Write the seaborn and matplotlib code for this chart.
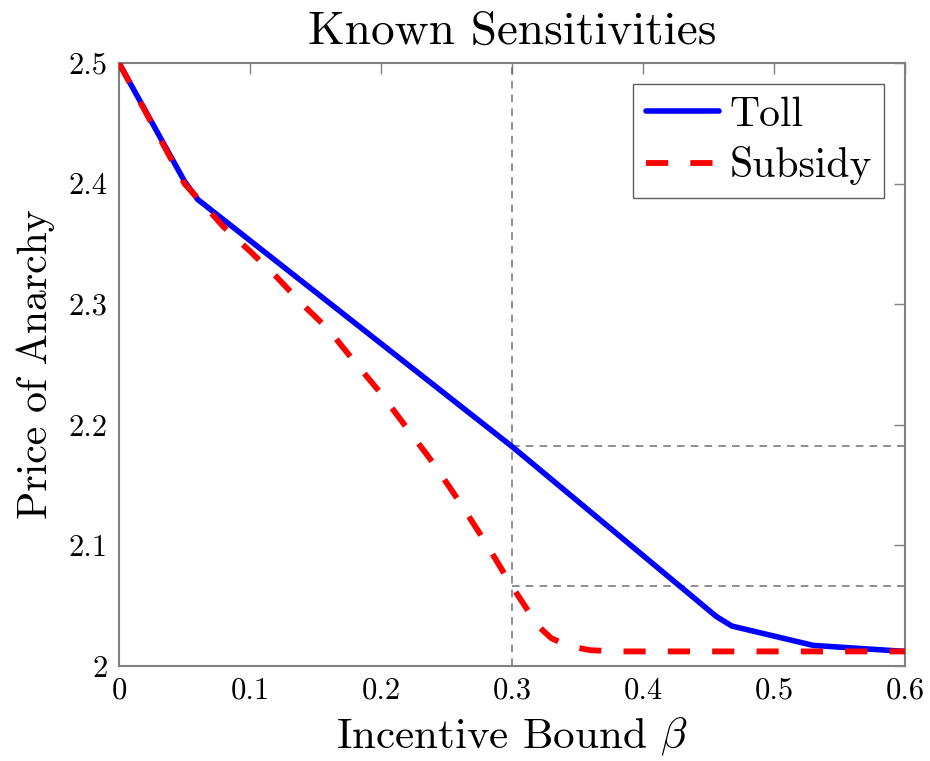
import numpy as np
import pandas as pd
import matplotlib
matplotlib.use("Agg")
import matplotlib.pyplot as plt
import seaborn as sns

# Data
toll_beta = [0.0, 0.05, 0.06, 0.30, 0.456, 0.468, 0.53, 0.60]
toll_poa = [2.500, 2.402, 2.387, 2.182, 2.041, 2.033, 2.017, 2.012]

subsidy_beta = [0.0, 0.05, 0.06, 0.08, 0.10, 0.12, 0.14, 0.16, 0.18, 0.20,
                0.22, 0.24, 0.26, 0.28, 0.30, 0.32, 0.33, 0.34, 0.35, 0.36,
                0.38, 0.40, 0.60]
subsidy_poa = [2.500, 2.400, 2.388, 2.364, 2.344, 2.323, 2.300, 2.279, 2.252,
               2.226, 2.197, 2.168, 2.136, 2.102, 2.066, 2.033, 2.023, 2.018,
               2.015, 2.013, 2.012, 2.012, 2.012]

ref_beta = 0.3
ref_levels = [2.182, 2.066]

x_ticks = [0, 0.1, 0.2, 0.3, 0.4, 0.5, 0.6]
x_labels = ['0', '0.1', '0.2', '0.3', '0.4', '0.5', '0.6']
y_ticks = [2.0, 2.1, 2.2, 2.3, 2.4, 2.5]
y_labels = ['2', '2.1', '2.2', '2.3', '2.4', '2.5']

toll = pd.DataFrame({'beta': toll_beta, 'poa': toll_poa})
subsidy = pd.DataFrame({'beta': subsidy_beta, 'poa': subsidy_poa})

sns.set_style('white')
plt.rcParams['font.family'] = ['cmr10', 'DejaVu Serif']
plt.rcParams['mathtext.fontset'] = 'cm'
plt.rcParams['axes.formatter.use_mathtext'] = True
plt.rcParams['text.color'] = 'black'
plt.rcParams['axes.labelcolor'] = 'black'

fig, ax = plt.subplots(figsize=(9.3, 7.61), dpi=100)
fig.subplots_adjust(left=0.128, right=0.973, bottom=0.125, top=0.917)

# reference lines
ax.axvline(ref_beta, color='#707070', lw=1.1, ls=(0, (5, 4)), zorder=1)
for lvl in ref_levels:
    ax.hlines(lvl, ref_beta, 0.6, color='#707070', lw=1.1, ls=(0, (5, 4)), zorder=1)

sns.lineplot(data=toll, x='beta', y='poa', ax=ax, color='#0000ff', lw=4.0,
             label='Toll', zorder=3)
sns.lineplot(data=subsidy, x='beta', y='poa', ax=ax, color='#ff0000', lw=4.2,
             label='Subsidy', zorder=4, dashes=False)
ax.lines[-1].set_dashes((3.8, 3.8))

ax.set_xlim(0, 0.6)
ax.set_ylim(2.0, 2.5)
ax.set_xticks(x_ticks)
ax.set_xticklabels(x_labels)
ax.set_yticks(y_ticks)
ax.set_yticklabels(y_labels)
ax.tick_params(direction='in', length=8, width=1, color='#808080',
               labelcolor='black', labelsize=22, top=True, right=True, pad=8)
for s in ax.spines.values():
    s.set_color('#808080')
    s.set_linewidth(1.5)

ax.set_title('Known Sensitivities', fontsize=34, pad=14)
ax.set_xlabel(r'Incentive Bound $\beta$', fontsize=31, labelpad=8)
ax.set_ylabel('Price of Anarchy', fontsize=30, labelpad=10)

leg = ax.legend(loc='upper right', fontsize=30, frameon=True, fancybox=False,
                handlelength=1.75, handletextpad=0.25, borderpad=0.3,
                labelspacing=0.3, borderaxespad=0.5)
leg.get_frame().set_edgecolor('#333333')
leg.get_frame().set_linewidth(1.0)
leg.get_lines()[1].set_dashes((3.8, 3.8))

fig.savefig('out.png', dpi=100)
